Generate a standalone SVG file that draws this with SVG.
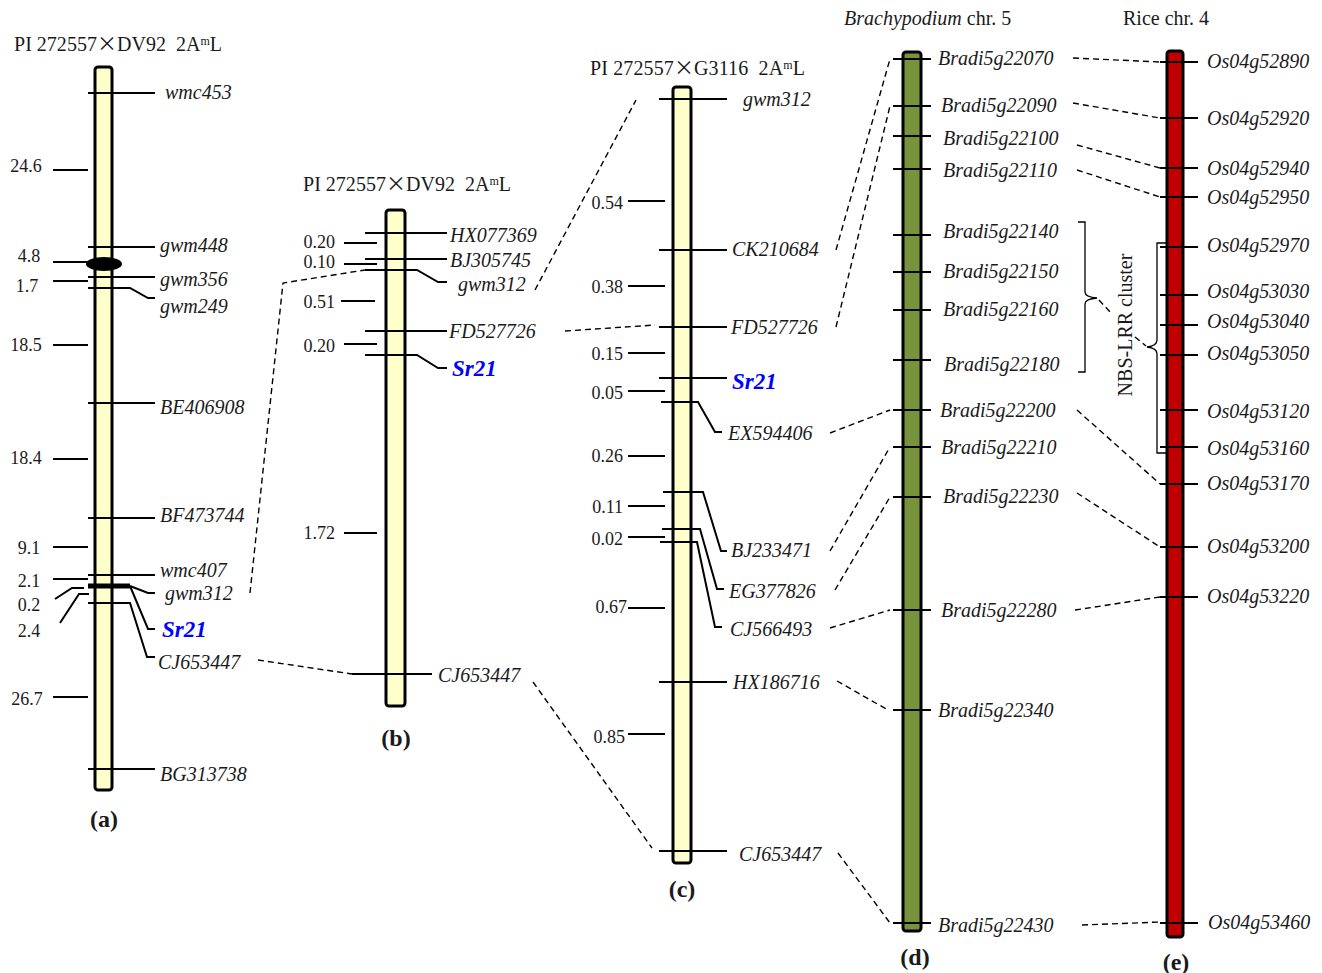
<svg xmlns="http://www.w3.org/2000/svg" width="1322" height="973" viewBox="0 0 1322 973">
<style>
text{font-family:"Liberation Serif","Times New Roman",serif;fill:#1a1a1a}
.t{font-size:20px;white-space:pre}
.x{font-family:"Noto Sans CJK SC","Liberation Serif",serif}
.n{font-size:18px}
.m{font-size:20px;font-style:italic}
.sr{font-size:23px;font-style:italic;font-weight:bold;fill:#0000ff}
.p{font-size:24px;font-weight:bold;text-anchor:middle}
.chr{stroke:#000;stroke-width:3}
.tk{stroke:#000;stroke-width:2;fill:none}
.th{stroke:#000;stroke-width:1.3;fill:none}
.d{stroke:#000;stroke-width:1.4;fill:none;stroke-dasharray:6 4}
.e{text-anchor:end}
.c{text-anchor:middle}
</style>
<rect width="1322" height="973" fill="#fff"/>

<g id="chrA">
<text class="t" x="14" y="51" textLength="208" lengthAdjust="spacing" xml:space="preserve">PI 272557<tspan class="x">×</tspan>DV92  2A<tspan font-size="12" dy="-6">m</tspan><tspan dy="6">L</tspan></text>
<rect class="chr" x="95" y="67" width="17" height="723" rx="3" fill="#ffffcc"/>
<ellipse cx="104" cy="264" rx="18" ry="7" fill="#000"/>
<path class="tk" d="M88 93H155M88 247H155M88 277H155M88 288H130L148 298H155M88 403H155M88 518H155M88 575H155M88 603H130L147 657H155M130 586L148 593H155M130 586L148 629H155M88 769H155"/>
<path d="M88 586H130" stroke="#000" stroke-width="5"/>
<path class="tk" d="M53 170H88M53 262H88M53 281H88M53 345H88M53 459H88M53 547H88M53 579H88M53 697H88M55 599L72 588H84M60 623L79 594H89"/>
<text class="m" x="165" y="99">wmc453</text>
<text class="m" x="160" y="252">gwm448</text>
<text class="m" x="160" y="286">gwm356</text>
<text class="m" x="160" y="313">gwm249</text>
<text class="m" x="160" y="414">BE406908</text>
<text class="m" x="160" y="522">BF473744</text>
<text class="m" x="160" y="577">wmc407</text>
<text class="m" x="165" y="600">gwm312</text>
<text class="sr" x="162" y="637">Sr21</text>
<text class="m" x="158" y="669">CJ653447</text>
<text class="m" x="160" y="781">BG313738</text>
<text class="n c" x="26" y="172">24.6</text>
<text class="n c" x="29" y="262">4.8</text>
<text class="n c" x="27" y="292">1.7</text>
<text class="n c" x="26" y="351">18.5</text>
<text class="n c" x="26" y="464">18.4</text>
<text class="n c" x="29" y="554">9.1</text>
<text class="n c" x="29" y="587">2.1</text>
<text class="n c" x="29" y="611">0.2</text>
<text class="n c" x="29" y="637">2.4</text>
<text class="n c" x="27" y="705">26.7</text>
<text class="p" x="104" y="827">(a)</text>
</g>

<g id="chrB">
<text class="t" x="303" y="191" textLength="208" lengthAdjust="spacing" xml:space="preserve">PI 272557<tspan class="x">×</tspan>DV92  2A<tspan font-size="12" dy="-6">m</tspan><tspan dy="6">L</tspan></text>
<rect class="chr" x="386" y="210" width="19" height="496" rx="3" fill="#ffffcc"/>
<path class="tk" d="M365 233H447M365 259H447M365 270H417L438 282H447M365 331H447M365 355H417L438 368H447M352 674H432"/>
<path class="tk" d="M344 243H377M344 264H377M341 301H375M344 344H377M344 533H377"/>
<text class="m" x="450" y="242">HX077369</text>
<text class="m" x="450" y="267">BJ305745</text>
<text class="m" x="458" y="291">gwm312</text>
<text class="m" x="449" y="338">FD527726</text>
<text class="sr" x="452" y="376">Sr21</text>
<text class="m" x="438" y="682">CJ653447</text>
<text class="n e" x="335" y="248">0.20</text>
<text class="n e" x="335" y="268">0.10</text>
<text class="n e" x="335" y="308">0.51</text>
<text class="n e" x="335" y="352">0.20</text>
<text class="n e" x="335" y="539">1.72</text>
<text class="p" x="396" y="746">(b)</text>
</g>

<g id="chrC">
<text class="t" x="590" y="75" textLength="215" lengthAdjust="spacing" xml:space="preserve">PI 272557<tspan class="x">×</tspan>G3116  2A<tspan font-size="12" dy="-6">m</tspan><tspan dy="6">L</tspan></text>
<rect class="chr" x="673" y="87" width="18" height="776" rx="3" fill="#ffffcc"/>
<path class="tk" d="M659 99H727M659 250H727M659 327H727M659 378H727M661 402H698L715 432H722M663 492H703L721 551H727M662 529H700L717 589H724M660 542H697L715 627H722M659 682H727M659 851H727"/>
<path class="tk" d="M628 201H665M628 286H665M628 353H665M628 391H665M628 456H665M628 506H665M628 537H665M628 608H665M628 734H665"/>
<text class="m" x="743" y="106">gwm312</text>
<text class="m" x="732" y="256">CK210684</text>
<text class="m" x="731" y="334">FD527726</text>
<text class="sr" x="732" y="389">Sr21</text>
<text class="m" x="728" y="440">EX594406</text>
<text class="m" x="731" y="557">BJ233471</text>
<text class="m" x="729" y="598">EG377826</text>
<text class="m" x="730" y="636">CJ566493</text>
<text class="m" x="733" y="689">HX186716</text>
<text class="m" x="739" y="861">CJ653447</text>
<text class="n e" x="623" y="209">0.54</text>
<text class="n e" x="623" y="293">0.38</text>
<text class="n e" x="623" y="360">0.15</text>
<text class="n e" x="623" y="399">0.05</text>
<text class="n e" x="623" y="462">0.26</text>
<text class="n e" x="623" y="513">0.11</text>
<text class="n e" x="623" y="545">0.02</text>
<text class="n e" x="627" y="613">0.67</text>
<text class="n e" x="625" y="743">0.85</text>
<text class="p" x="682" y="897">(c)</text>
</g>

<g id="chrD">
<text class="t" x="844" y="25"><tspan font-style="italic">Brachypodium</tspan> chr. 5</text>
<rect class="chr" x="903" y="52" width="18" height="879" rx="3" fill="#77933c"/>
<path class="tk" d="M893 59H931M893 106H931M893 136H931M893 169H931M893 235H931M893 272H931M893 310H931M893 360H931M893 410H931M893 447H931M893 497H931M893 610H931M893 710H931M893 923H931"/>
<text class="m" x="938" y="65">Bradi5g22070</text>
<text class="m" x="941" y="112">Bradi5g22090</text>
<text class="m" x="943" y="145">Bradi5g22100</text>
<text class="m" x="943" y="177">Bradi5g22110</text>
<text class="m" x="943" y="238">Bradi5g22140</text>
<text class="m" x="943" y="278">Bradi5g22150</text>
<text class="m" x="943" y="316">Bradi5g22160</text>
<text class="m" x="944" y="371">Bradi5g22180</text>
<text class="m" x="940" y="417">Bradi5g22200</text>
<text class="m" x="941" y="454">Bradi5g22210</text>
<text class="m" x="943" y="503">Bradi5g22230</text>
<text class="m" x="941" y="617">Bradi5g22280</text>
<text class="m" x="938" y="717">Bradi5g22340</text>
<text class="m" x="938" y="932">Bradi5g22430</text>
<text class="p" x="915" y="965">(d)</text>
</g>

<g id="chrE">
<text class="t" x="1123" y="25">Rice chr. 4</text>
<rect class="chr" x="1167" y="51" width="16" height="886" rx="3" fill="#c00000"/>
<path class="tk" d="M1160 62H1198M1160 118H1198M1160 168H1198M1160 197H1198M1160 247H1198M1160 295H1198M1160 325H1198M1160 355H1198M1160 410H1198M1160 447H1198M1160 484H1198M1160 547H1198M1160 597H1198M1160 923H1198"/>
<text class="m" x="1207" y="68">Os04g52890</text>
<text class="m" x="1207" y="125">Os04g52920</text>
<text class="m" x="1207" y="175">Os04g52940</text>
<text class="m" x="1207" y="204">Os04g52950</text>
<text class="m" x="1207" y="252">Os04g52970</text>
<text class="m" x="1207" y="298">Os04g53030</text>
<text class="m" x="1207" y="328">Os04g53040</text>
<text class="m" x="1207" y="360">Os04g53050</text>
<text class="m" x="1207" y="418">Os04g53120</text>
<text class="m" x="1207" y="455">Os04g53160</text>
<text class="m" x="1207" y="490">Os04g53170</text>
<text class="m" x="1207" y="553">Os04g53200</text>
<text class="m" x="1207" y="603">Os04g53220</text>
<text class="m" x="1208" y="929">Os04g53460</text>
<text class="p" x="1176" y="970">(e)</text>
</g>

<g id="cluster">
<path class="th" d="M1078 222H1085V292Q1085 297 1097 298Q1085 299 1085 304V372H1078"/>
<path class="th" d="M1166 243H1157V340Q1157 346 1147 347Q1157 348 1157 354V453H1166"/>
<text class="c" font-size="20" x="1132" y="325" transform="rotate(-90 1132 325)">NBS-LRR cluster</text>
</g>

<g id="connectors">
<path class="d" d="M250 593L283 283L365 270"/>
<path class="d" d="M258 660L352 674"/>
<path class="d" d="M535 290L636 100"/>
<path class="d" d="M565 331L655 325"/>
<path class="d" d="M533 682L652 848"/>
<path class="d" d="M836 250L890 59"/>
<path class="d" d="M836 327L890 106"/>
<path class="d" d="M830 433L890 410"/>
<path class="d" d="M830 551L890 447"/>
<path class="d" d="M835 590L890 497"/>
<path class="d" d="M830 628L890 610"/>
<path class="d" d="M837 681L888 710"/>
<path class="d" d="M838 853L890 923"/>
<path class="d" d="M1073 58L1160 62"/>
<path class="d" d="M1073 103L1160 118"/>
<path class="d" d="M1077 145L1160 168"/>
<path class="d" d="M1077 170L1160 197"/>
<path class="d" d="M1077 410L1160 484"/>
<path class="d" d="M1077 493L1160 547"/>
<path class="d" d="M1075 610L1160 597"/>
<path class="d" d="M1082 925L1160 922"/>
<path class="d" d="M1099 300L1111 313"/>
<path class="d" d="M1135 337L1146 346"/>
</g>
</svg>
